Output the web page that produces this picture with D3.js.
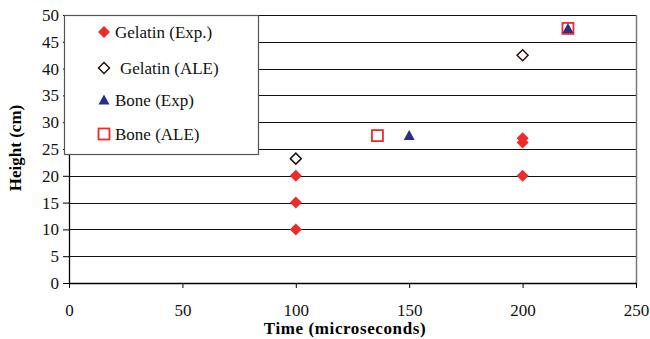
<!DOCTYPE html>
<html><head><meta charset="utf-8">
<script src="https://cdn.jsdelivr.net/npm/d3@7"></script>
<style>body{margin:0;background:#fff}svg{display:block}</style>
</head><body><svg id="c" width="650" height="339"></svg>
<script>
const xTicks = [0, 50, 100, 150, 200, 250];
const yTicks = [0, 5, 10, 15, 20, 25, 30, 35, 40, 45, 50];
const gelatinExpX = [100, 100, 100, 200, 200, 200];
const gelatinExpY = [10, 15, 20, 20, 26.2, 27];
const gelatinAleX = [100, 200];
const gelatinAleY = [23.2, 42.5];
const boneExpX = [150, 220];
const boneExpY = [27.5, 47.5];
const boneAleX = [136, 220];
const boneAleY = [27.5, 47.5];
const legendLabels = ["Gelatin (Exp.)", "Gelatin (ALE)", "Bone (Exp)", "Bone (ALE)"];

const svg = d3.select("#c");
const L = 69, R = 636, T = 15, B = 283;
const x = d3.scaleLinear().domain([0, 250]).range([L, R]);
const y = d3.scaleLinear().domain([0, 50]).range([B, T]);
const font = "'Liberation Serif', 'Times New Roman', serif";

// gridlines
svg.append("g").selectAll("line").data(yTicks.filter(d => d > 0)).join("line")
  .attr("x1", L).attr("x2", R).attr("y1", d => Math.round(y(d)) + 0.5).attr("y2", d => Math.round(y(d)) + 0.5)
  .attr("stroke", "#111").attr("stroke-width", 1);
// right border
svg.append("line").attr("x1", R + 0.5).attr("x2", R + 0.5).attr("y1", T).attr("y2", B)
  .attr("stroke", "#777").attr("stroke-width", 1.5);

// axes
const yAxis = svg.append("g").attr("transform", `translate(${L},0)`)
  .call(d3.axisLeft(y).tickValues(yTicks).tickSize(6).tickSizeOuter(0).tickPadding(4));
const xAxis = svg.append("g").attr("transform", `translate(0,${B})`)
  .call(d3.axisBottom(x).tickValues(xTicks).tickSize(5).tickSizeOuter(0).tickPadding(16));
[xAxis, yAxis].forEach(a => {
  a.select(".domain").attr("stroke", "#000").attr("stroke-width", 1.3);
  a.selectAll(".tick line").attr("stroke", "#000");
  a.selectAll("text").attr("font-family", font).attr("font-size", 17).attr("fill", "#111");
});

function diamondPath(s) {
  return `M0,${-s}L${s},0L0,${s}L${-s},0Z`;
}
const triPath = "M0,-5.5L5.5,4.5L-5.5,4.5Z";
const red = "#ee2a2a", blue = "#2b2d8e";
function pts(xs, ys) { return xs.map((v, i) => [v, ys[i]]); }
const marks = svg.append("g");
marks.append("g").selectAll("path").data(pts(gelatinExpX, gelatinExpY)).join("path")
  .attr("d", diamondPath(6)).attr("transform", d => `translate(${x(d[0])},${y(d[1])})`)
  .attr("fill", red);
marks.append("g").selectAll("path").data(pts(gelatinAleX, gelatinAleY)).join("path")
  .attr("d", diamondPath(5.5)).attr("transform", d => `translate(${x(d[0])},${y(d[1])})`)
  .attr("fill", "#fff").attr("stroke", "#2a1010").attr("stroke-width", 1.5);
marks.append("g").selectAll("rect").data(pts(boneAleX, boneAleY)).join("rect")
  .attr("x", d => x(d[0]) - 5.5).attr("y", d => y(d[1]) - 5.5).attr("width", 11).attr("height", 11)
  .attr("fill", "#fff").attr("stroke", red).attr("stroke-width", 1.8);
marks.append("g").selectAll("path").data(pts(boneExpX, boneExpY)).join("path")
  .attr("d", triPath).attr("transform", d => `translate(${x(d[0])},${y(d[1])})`)
  .attr("fill", blue);

// axis titles
svg.append("text").attr("x", 345).attr("y", 334).attr("text-anchor", "middle")
  .attr("font-family", font).attr("font-size", 17).attr("font-weight", "bold")
  .attr("letter-spacing", 0.6).text("Time (microseconds)");
svg.append("text").attr("transform", `translate(21,${(T + B) / 2 - 1}) rotate(-90)`).attr("text-anchor", "middle")
  .attr("font-family", font).attr("font-size", 17).attr("font-weight", "bold").text("Height (cm)");

// legend
const lg = svg.append("g");
lg.append("rect").attr("x", 64.5).attr("y", 15.5).attr("width", 194).attr("height", 139)
  .attr("fill", "#fff").attr("stroke", "#555").attr("stroke-width", 1.2);
const rows = [32, 68, 100, 134];
lg.append("path").attr("d", diamondPath(6)).attr("transform", `translate(104,${rows[0]})`).attr("fill", red);
lg.append("path").attr("d", diamondPath(5.5)).attr("transform", `translate(104,${rows[1]})`)
  .attr("fill", "#fff").attr("stroke", "#2a1010").attr("stroke-width", 1.5);
lg.append("path").attr("d", triPath).attr("transform", `translate(104,${rows[2]})`).attr("fill", blue);
lg.append("rect").attr("x", 98.5).attr("y", rows[3] - 5.5).attr("width", 11).attr("height", 11)
  .attr("fill", "#fff").attr("stroke", red).attr("stroke-width", 1.8);
const textX = [115, 120, 115, 115];
lg.selectAll("text").data(legendLabels).join("text")
  .attr("x", (d, i) => textX[i]).attr("y", (d, i) => rows[i] + 6)
  .attr("font-family", font).attr("font-size", 17).attr("fill", "#111").text(d => d);
</script></body></html>
